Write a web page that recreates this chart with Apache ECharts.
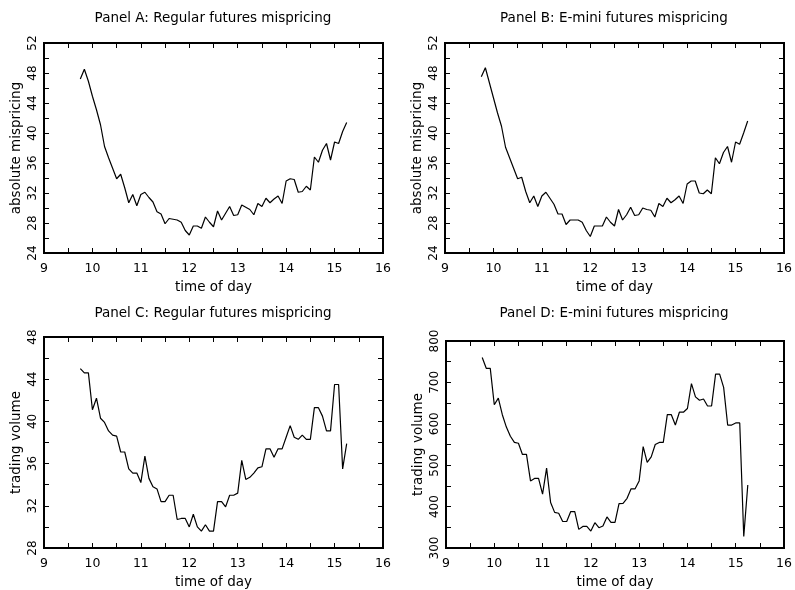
<!DOCTYPE html>
<html>
<head>
<meta charset="utf-8">
<script src="https://cdn.jsdelivr.net/npm/echarts@6/dist/echarts.min.js"></script>
<style>
html,body{margin:0;padding:0;background:#fff;}
#chart{width:795px;height:590px;}
</style>
</head>
<body>
<div id="chart"></div>
<script>
// time of day (5-minute intervals)
const times = ["9:45","9:50","9:55","10:00","10:05","10:10","10:15","10:20","10:25","10:30",
  "10:35","10:40","10:45","10:50","10:55","11:00","11:05","11:10","11:15","11:20",
  "11:25","11:30","11:35","11:40","11:45","11:50","11:55","12:00","12:05","12:10",
  "12:15","12:20","12:25","12:30","12:35","12:40","12:45","12:50","12:55","13:00",
  "13:05","13:10","13:15","13:20","13:25","13:30","13:35","13:40","13:45","13:50",
  "13:55","14:00","14:05","14:10","14:15","14:20","14:25","14:30","14:35","14:40",
  "14:45","14:50","14:55","15:00","15:05","15:10","15:15"];

// Panel A: regular futures absolute mispricing
const panelA = [47.2,48.5,46.9,44.9,43.1,41.1,38.2,36.7,35.3,33.9,
  34.5,32.7,30.7,31.8,30.3,31.8,32.1,31.4,30.8,29.5,
  29.2,27.9,28.6,28.5,28.4,28.1,27.0,26.4,27.6,27.6,
  27.3,28.8,28.1,27.5,29.6,28.4,29.3,30.2,29.0,29.1,
  30.4,30.1,29.8,29.1,30.6,30.2,31.3,30.7,31.2,31.6,
  30.6,33.6,33.9,33.8,32.1,32.2,32.9,32.4,36.8,36.1,
  37.7,38.6,36.4,38.8,38.6,40.2,41.4];

// Panel B: E-mini futures absolute mispricing
const panelB = [47.5,48.7,46.7,44.7,42.7,40.9,38.1,36.7,35.3,33.9,
  34.1,32.2,30.7,31.6,30.2,31.6,32.1,31.3,30.5,29.2,
  29.2,27.8,28.4,28.4,28.4,28.1,27.0,26.2,27.6,27.6,
  27.6,28.8,28.1,27.6,29.8,28.4,29.1,30.1,29.0,29.1,
  30.0,29.8,29.7,28.8,30.6,30.2,31.3,30.7,31.1,31.6,
  30.6,33.2,33.6,33.6,32.0,31.9,32.4,31.9,36.7,35.9,
  37.4,38.2,36.1,38.8,38.5,40.0,41.6];

// Panel C: regular futures trading volume
const panelC = [45.0,44.6,44.6,41.1,42.2,40.3,39.9,39.1,38.7,38.6,
  37.1,37.1,35.5,35.1,35.1,34.2,36.7,34.6,33.8,33.6,
  32.4,32.4,33.0,33.0,30.7,30.8,30.8,30.0,31.2,30.0,
  29.6,30.2,29.6,29.6,32.4,32.4,31.9,33.0,33.0,33.2,
  36.3,34.5,34.7,35.1,35.6,35.7,37.4,37.4,36.6,37.4,
  37.4,38.5,39.6,38.5,38.3,38.7,38.3,38.3,41.3,41.3,
  40.5,39.1,39.1,43.5,43.5,35.5,37.9];

// Panel D: E-mini futures trading volume
const panelD = [760,734,734,646,662,622,592,570,555,553,
  526,526,462,468,468,430,493,410,386,384,
  364,364,388,388,345,352,352,341,361,349,
  353,375,362,362,407,408,420,443,443,462,
  545,507,520,550,555,555,622,622,597,628,
  628,637,697,665,657,660,643,643,720,720,
  688,597,597,602,602,328,452];

const titles = ["Panel A: Regular futures mispricing","Panel B: E-mini futures mispricing",
                "Panel C: Regular futures mispricing","Panel D: E-mini futures mispricing"];
const yNames = ["absolute mispricing","absolute mispricing","trading volume","trading volume"];
const xName = "time of day";
const xTicks = {min:9, max:16, interval:0.5};
const yTicks = [
  {min:24, max:52, interval:2, labelEvery:4},
  {min:24, max:52, interval:2, labelEvery:4},
  {min:28, max:48, interval:2, labelEvery:4},
  {min:300, max:800, interval:50, labelEvery:100}
];
const seriesValues = [panelA, panelB, panelC, panelD];

function toHour(t){ const p = t.split(':'); return Number(p[0]) + Number(p[1])/60; }

const FONT = 'DejaVu Sans';
const grids = [
  {left:44, width:339, top:43, height:210},
  {left:445, width:339, top:43, height:210},
  {left:44, width:339, top:337, height:211},
  {left:446, width:338, top:341, height:207}
];
const titlePos = [[213,18],[614,18],[213,313],[614,313]];

const xAxes = [], yAxes = [], series = [], graphics = [];
grids.forEach((g, i) => {
  g.show = true; g.borderColor = '#000'; g.borderWidth = 2; g.backgroundColor = 'transparent';
  const tickStyle = {show:true, inside:true, length:5, lineStyle:{color:'#000', width:1}};
  xAxes.push({
    type:'value', gridIndex:i, position:'bottom', min:xTicks.min, max:xTicks.max, interval:xTicks.interval,
    axisLine:{show:false}, splitLine:{show:false}, axisTick:tickStyle,
    axisLabel:{color:'#000', fontFamily:FONT, fontSize:12.5, margin:9,
      formatter: v => Number.isInteger(v) ? String(v) : ''},
    name:xName, nameLocation:'middle', nameGap:27,
    nameTextStyle:{color:'#000', fontFamily:FONT, fontSize:13.5}
  });
  xAxes.push({
    type:'value', gridIndex:i, position:'top', min:xTicks.min, max:xTicks.max, interval:xTicks.interval,
    axisLine:{show:false}, splitLine:{show:false}, axisTick:tickStyle, axisLabel:{show:false}
  });
  const yt = yTicks[i];
  yAxes.push({
    type:'value', gridIndex:i, position:'left', min:yt.min, max:yt.max, interval:yt.interval,
    axisLine:{show:false}, splitLine:{show:false}, axisTick:tickStyle,
    axisLabel:{color:'#000', fontFamily:FONT, fontSize:12, rotate:90, margin:5,
      formatter: v => (v % yt.labelEvery === 0) ? String(v) : ''},
    name:yNames[i], nameLocation:'middle', nameGap:21,
    nameTextStyle:{color:'#000', fontFamily:FONT, fontSize:13.5}
  });
  yAxes.push({
    type:'value', gridIndex:i, position:'right', min:yt.min, max:yt.max, interval:yt.interval,
    axisLine:{show:false}, splitLine:{show:false}, axisTick:tickStyle, axisLabel:{show:false}
  });
  series.push({
    type:'line', xAxisIndex:2*i, yAxisIndex:2*i, symbol:'none', animation:false,
    lineStyle:{color:'#000', width:1.2}, silent:true,
    data: times.map((t, k) => [toHour(t), seriesValues[i][k]])
  });
  graphics.push({
    type:'text', x:titlePos[i][0], y:titlePos[i][1],
    style:{text:titles[i], fill:'#000', font:'13.5px "DejaVu Sans"', textAlign:'center', textVerticalAlign:'middle'}
  });
});

const chart = echarts.init(document.getElementById('chart'), null, {renderer:'canvas'});
chart.setOption({
  animation:false,
  backgroundColor:'#fff',
  grid:grids, xAxis:xAxes, yAxis:yAxes, series:series, graphic:graphics
});
</script>
</body>
</html>
